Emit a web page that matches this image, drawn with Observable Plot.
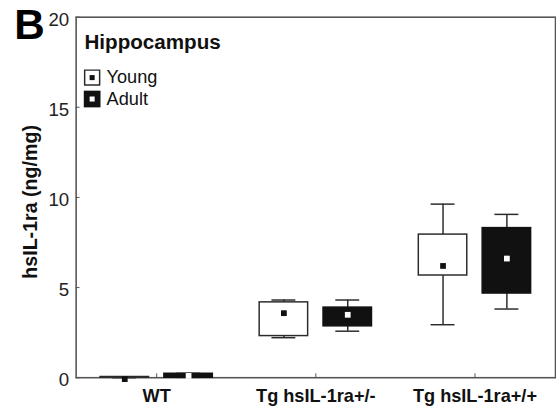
<!DOCTYPE html>
<html>
<head>
<meta charset="utf-8">
<script src="https://cdn.jsdelivr.net/npm/d3@7"></script>
<script src="https://cdn.jsdelivr.net/npm/@observablehq/plot@0.6"></script>
<style>
  html, body { margin: 0; padding: 0; background: #fff; overflow: hidden; }
  #wrap { width: 556px; height: 420px; overflow: hidden; }
</style>
</head>
<body>
<div id="wrap"></div>
<script>
// ---- data ----
const panelLetter = "B";
const panelTitle = "Hippocampus";
const yLabel = "hsIL-1ra (ng/mg)";
const groups = ["WT", "Tg hsIL-1ra+/-", "Tg hsIL-1ra+/+"];
const series = ["Young", "Adult"];
const yTicks = [0, 5, 10, 15, 20];

// Young (per group)
const youngMin  = [0.00, 2.22, 2.94];
const youngQ1   = [0.00, 2.31, 5.67];
const youngMean = [-0.08, 3.58, 6.20];
const youngQ3   = [0.04, 4.18, 7.94];
const youngMax  = [0.05, 4.31, 9.63];

// Adult (per group)
const adultMin  = [0.02, 2.58, 3.81];
const adultQ1   = [0.00, 2.85, 4.67];
const adultMean = [0.10, 3.49, 6.61];
const adultQ3   = [0.22, 3.89, 8.30];
const adultMax  = [0.24, 4.31, 9.06];

// ---- table built from the arrays ----
const rows = [];
groups.forEach((g, i) => {
  rows.push({group: g, series: "Young", min: youngMin[i], q1: youngQ1[i], mean: youngMean[i], q3: youngQ3[i], max: youngMax[i]});
  rows.push({group: g, series: "Adult", min: adultMin[i], q1: adultQ1[i], mean: adultMean[i], q3: adultQ3[i], max: adultMax[i]});
});
const young = rows.filter(d => d.series === "Young");
const adult = rows.filter(d => d.series === "Adult");

const font = "'Liberation Sans', Arial, Helvetica, sans-serif";
const dark = "#2a2a2a";
const axisGray = "#555";

// offsets of the two series inside each group band (band ≈ 162.7px)
const off = 32.5;
const boxIn = {near: 7.5, far: 57.5};
const half = (566 - 1 - 77) / 3 / 2;

const marks = [
  Plot.frame({stroke: axisGray, strokeWidth: 1.6}),
  // y axis: labels + inward ticks
  Plot.axisY({ticks: yTicks, tickSize: 0, tickPadding: 7, label: null, fontSize: 19, fill: "#222", dy: 2.5}),
  Plot.axisY({ticks: yTicks, tickSize: -4, tickFormat: () => "", label: null, stroke: axisGray}),
  // x axis: labels + inward ticks
  Plot.axisX({tickSize: 0, tickPadding: 12, label: null, fontSize: 18.5, fontWeight: "bold", fill: "#111"}),
  Plot.axisX({tickSize: -4, tickFormat: () => "", label: null, stroke: axisGray}),

  // whiskers
  Plot.ruleX(young, {x: "group", y1: "min", y2: "max", dx: -off, stroke: dark, strokeWidth: 1.5}),
  Plot.ruleX(adult, {x: "group", y1: "min", y2: "max", dx: off, stroke: dark, strokeWidth: 1.5}),
  // whisker caps
  Plot.tickY(young, {x: "group", y: "min", insetLeft: half - off - 12.5, insetRight: half + off - 12.5, stroke: dark, strokeWidth: 1.5}),
  Plot.tickY(young, {x: "group", y: "max", insetLeft: half - off - 12.5, insetRight: half + off - 12.5, stroke: dark, strokeWidth: 1.5}),
  Plot.tickY(adult, {x: "group", y: "min", insetLeft: half + off - 12.5, insetRight: half - off - 12.5, stroke: dark, strokeWidth: 1.5}),
  Plot.tickY(adult, {x: "group", y: "max", insetLeft: half + off - 12.5, insetRight: half - off - 12.5, stroke: dark, strokeWidth: 1.5}),
  // boxes
  Plot.barY(young, {x: "group", y1: "q1", y2: "q3", insetLeft: half - boxIn.far, insetRight: half + boxIn.near, fill: "#fff", stroke: dark, strokeWidth: 1.5}),
  Plot.barY(adult, {x: "group", y1: "q1", y2: "q3", insetLeft: half + boxIn.near, insetRight: half - boxIn.far, fill: "#111", stroke: "#111", strokeWidth: 1.5}),
  // mean markers
  Plot.dot(young, {x: "group", y: "mean", dx: -off, symbol: "square", r: 3.3, fill: "#111"}),
  Plot.dot(adult, {x: "group", y: "mean", dx: off, symbol: "square", r: 3.3, fill: "#fff"}),

  // panel letter and title
  Plot.text([panelLetter], {text: d => d, frameAnchor: "top-left", dx: -63, dy: -8, lineAnchor: "top", textAnchor: "start", fontSize: 43, fontWeight: "bold", fill: "#000"}),
  Plot.text([panelTitle], {text: d => d, frameAnchor: "top-left", dx: 8.5, dy: 17, lineAnchor: "top", textAnchor: "start", fontSize: 21, fontWeight: "bold", fill: "#111"}),
  // y label
  Plot.text([yLabel], {text: d => d, frameAnchor: "left", dx: -46, dy: 4.5, rotate: -90, textAnchor: "middle", lineAnchor: "middle", fontSize: 20, fontWeight: "bold", fill: "#111"}),

  // legend
  Plot.dot([series[0]], {frameAnchor: "top-left", dx: 16.3, dy: 61.5, symbol: "square", r: 8.6, fill: "#fff", stroke: dark, strokeWidth: 1.5}),
  Plot.dot([series[0]], {frameAnchor: "top-left", dx: 16.3, dy: 61.5, symbol: "square", r: 2.9, fill: "#111"}),
  Plot.dot([series[1]], {frameAnchor: "top-left", dx: 16.3, dy: 83.3, symbol: "square", r: 9.6, fill: "#111"}),
  Plot.dot([series[1]], {frameAnchor: "top-left", dx: 16.3, dy: 83.3, symbol: "square", r: 2.9, fill: "#fff"}),
  Plot.text([series[0]], {text: d => d, frameAnchor: "top-left", dx: 31, dy: 54, lineAnchor: "top", textAnchor: "start", fontSize: 18.5, fill: "#111"}),
  Plot.text([series[1]], {text: d => d, frameAnchor: "top-left", dx: 31, dy: 76, lineAnchor: "top", textAnchor: "start", fontSize: 18.5, fill: "#111"})
];

const chart = Plot.plot({
  width: 566,
  height: 420,
  marginLeft: 77,
  marginRight: 1,
  marginTop: 17,
  marginBottom: 36,
  style: {fontFamily: font, fontSize: "17px", background: "#fff", color: "#111"},
  x: {type: "band", domain: groups, padding: 0},
  y: {domain: [0, 20]},
  marks
});
document.getElementById("wrap").appendChild(chart);
</script>
</body>
</html>
